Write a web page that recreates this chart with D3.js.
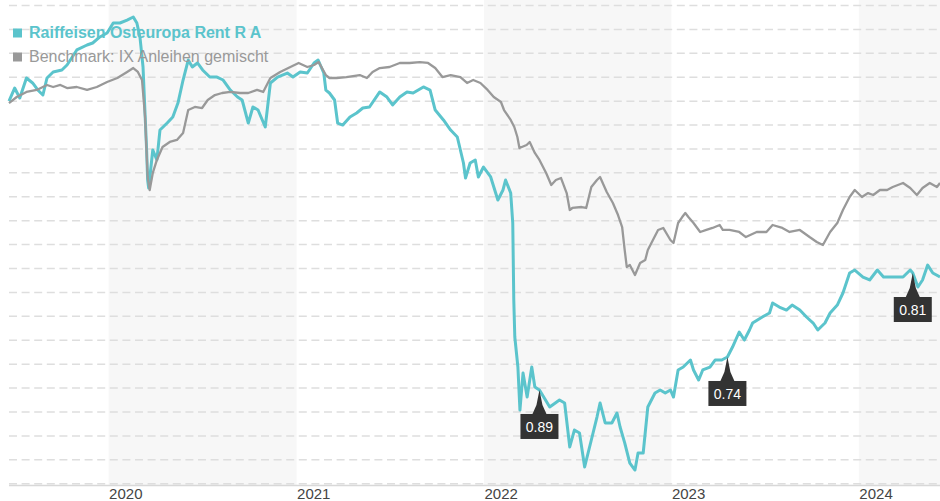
<!DOCTYPE html>
<html>
<head>
<meta charset="utf-8">
<script src="https://cdn.jsdelivr.net/npm/d3@7"></script>
<style>
  html, body { margin: 0; padding: 0; background: #fff; }
  svg { display: block; }
</style>
</head>
<body>
<svg id="chart" width="940" height="501"></svg>
<script>
// ---- Data ----
const fundName = "Raiffeisen Osteuropa Rent R A";
const benchName = "Benchmark: IX Anleihen gemischt";

const fund = [
  ["2019-06-21",100.01],["2019-07-02",101.37],["2019-07-12",100.33],["2019-07-25",102.42],["2019-08-06",101.90],
  ["2019-08-16",101.17],["2019-08-26",100.64],["2019-09-03",102.42],["2019-09-15",103.05],["2019-10-02",103.26],
  ["2019-10-12",103.78],["2019-10-21",104.51],["2019-10-31",105.35],["2019-11-20",105.87],["2019-12-01",106.08],
  ["2019-12-15",106.71],["2019-12-29",107.12],["2020-01-10",108.17],["2020-01-23",108.17],["2020-02-06",108.48],
  ["2020-02-18",108.80],["2020-02-25",108.17],["2020-03-02",106.71],["2020-03-08",103.57],["2020-03-15",94.89],
  ["2020-03-17",91.75],["2020-03-19",90.92],["2020-03-27",94.89],["2020-04-04",93.85],["2020-04-10",96.98],
  ["2020-04-24",97.71],["2020-05-05",98.34],["2020-05-15",99.80],["2020-05-25",102.21],["2020-06-04",104.30],
  ["2020-06-12",103.57],["2020-06-22",103.99],["2020-07-02",103.26],["2020-07-16",102.52],["2020-07-30",102.52],
  ["2020-08-11",102.21],["2020-08-25",101.16],["2020-09-08",100.43],["2020-09-17",100.12],["2020-09-29",97.71],
  ["2020-10-08",99.39],["2020-10-18",99.07],["2020-11-01",97.30],["2020-11-11",101.90],["2020-11-25",102.52],
  ["2020-12-14",102.94],["2020-12-25",102.52],["2021-01-08",103.05],["2021-01-22",102.94],["2021-02-04",103.99],
  ["2021-02-12",104.30],["2021-02-23",102.94],["2021-02-27",101.16],["2021-03-06",100.85],["2021-03-16",100.12],
  ["2021-03-22",97.71],["2021-04-01",97.50],["2021-04-15",98.34],["2021-04-28",98.76],["2021-05-10",99.28],
  ["2021-05-23",99.39],["2021-06-12",100.96],["2021-06-26",100.43],["2021-07-07",99.60],["2021-07-21",100.43],
  ["2021-08-04",100.96],["2021-08-16",100.85],["2021-09-05",101.48],["2021-09-18",101.16],["2021-09-28",99.07],
  ["2021-10-14",98.03],["2021-10-28",96.98],["2021-11-10",96.25],["2021-11-22",93.53],["2021-11-26",91.96],
  ["2021-12-05",93.53],["2021-12-15",93.85],["2021-12-21",92.07],["2021-12-31",93.11],["2022-01-14",92.07],
  ["2022-01-28",89.66],["2022-02-07",90.71],["2022-02-12",91.75],["2022-02-22",90.39],["2022-02-26",87.26],
  ["2022-02-28",79.21],["2022-03-02",75.34],["2022-03-08",72.20],["2022-03-12",67.70],["2022-03-18",71.57],
  ["2022-03-26",69.06],["2022-04-04",72.20],["2022-04-10",70.11],["2022-04-19",69.80],["2022-05-09",68.02],
  ["2022-05-28",68.75],["2022-06-07",68.44],["2022-06-17",63.84],["2022-06-26",65.61],["2022-07-06",65.30],
  ["2022-07-16",61.75],["2022-07-29",64.57],["2022-08-09",66.97],["2022-08-15",68.44],["2022-08-25",66.35],
  ["2022-09-07",66.35],["2022-09-17",67.39],["2022-09-23",65.93],["2022-10-02",64.26],["2022-10-12",62.16],
  ["2022-10-22",61.43],["2022-10-28",63.21],["2022-11-07",63.21],["2022-11-16",68.02],["2022-11-30",69.48],
  ["2022-12-10",69.80],["2022-12-20",69.48],["2022-12-30",69.80],["2023-01-05",69.06],["2023-01-14",71.89],
  ["2023-01-24",72.20],["2023-02-07",72.93],["2023-02-13",71.89],["2023-02-23",70.84],["2023-03-03",71.89],
  ["2023-03-17",72.20],["2023-03-27",72.93],["2023-04-09",72.93],["2023-04-20",73.25],["2023-04-30",74.29],
  ["2023-05-13",75.86],["2023-05-23",75.02],["2023-06-02",76.07],["2023-06-08",76.80],["2023-06-27",77.43],
  ["2023-07-11",77.85],["2023-07-17",78.89],["2023-07-30",78.47],["2023-08-13",78.16],["2023-08-24",78.68],
  ["2023-09-08",78.16],["2023-09-21",77.43],["2023-10-04",76.80],["2023-10-13",76.07],["2023-10-27",76.80],
  ["2023-11-06",77.85],["2023-11-20",78.68],["2023-12-01",79.94],["2023-12-14",82.03],["2023-12-24",82.34],
  ["2024-01-09",81.61],["2024-01-22",81.30],["2024-02-06",82.34],["2024-02-18",81.61],["2024-03-02",81.61],
  ["2024-03-15",81.61],["2024-03-27",81.61],["2024-04-10",82.34],["2024-04-15",82.03],["2024-04-25",80.57],
  ["2024-05-04",81.30],["2024-05-14",82.86],["2024-05-24",82.03],["2024-06-07",81.61]
];

const bench = [
  ["2019-06-21",99.80],["2019-07-06",100.43],["2019-07-25",100.96],["2019-08-14",101.17],["2019-09-03",101.69],
  ["2019-09-15",101.48],["2019-09-29",101.69],["2019-10-12",101.37],["2019-10-31",101.48],["2019-11-20",101.17],
  ["2019-12-09",101.48],["2019-12-29",102.00],["2020-01-18",102.42],["2020-02-06",103.05],["2020-02-18",103.46],
  ["2020-02-27",103.05],["2020-03-06",102.21],["2020-03-12",98.34],["2020-03-17",92.07],["2020-03-21",90.71],
  ["2020-03-27",92.49],["2020-04-04",93.85],["2020-04-15",95.20],["2020-04-29",95.73],["2020-05-13",95.94],
  ["2020-05-25",96.67],["2020-06-04",99.07],["2020-06-17",99.39],["2020-07-01",99.28],["2020-07-12",100.12],
  ["2020-07-26",100.64],["2020-08-09",100.85],["2020-08-25",100.96],["2020-09-13",100.85],["2020-09-29",100.85],
  ["2020-10-16",101.17],["2020-10-28",100.96],["2020-11-11",102.42],["2020-11-30",103.05],["2020-12-20",103.57],
  ["2021-01-05",103.99],["2021-01-22",103.57],["2021-02-04",103.78],["2021-02-13",104.09],["2021-02-27",102.73],
  ["2021-03-06",102.42],["2021-03-20",102.42],["2021-04-08",102.52],["2021-05-04",102.73],["2021-05-18",102.42],
  ["2021-05-29",103.05],["2021-06-12",103.46],["2021-07-01",103.57],["2021-07-21",103.99],["2021-08-09",103.99],
  ["2021-08-29",104.09],["2021-09-14",103.99],["2021-09-28",103.46],["2021-10-12",102.52],["2021-10-28",102.73],
  ["2021-11-16",102.52],["2021-11-29",101.90],["2021-12-11",102.21],["2021-12-25",101.90],["2022-01-08",101.17],
  ["2022-01-20",100.43],["2022-02-03",99.91],["2022-02-09",99.07],["2022-02-22",98.03],["2022-03-01",97.30],
  ["2022-03-07",96.25],["2022-03-11",95.10],["2022-03-25",95.41],["2022-03-31",95.73],["2022-04-10",94.58],
  ["2022-04-19",93.85],["2022-05-02",92.49],["2022-05-12",91.23],["2022-05-21",91.75],["2022-05-31",91.96],
  ["2022-06-11",90.39],["2022-06-17",88.62],["2022-06-22",88.83],["2022-07-10",88.93],["2022-07-19",88.83],
  ["2022-07-29",91.02],["2022-08-09",91.75],["2022-08-15",92.07],["2022-08-28",90.50],["2022-09-09",89.35],
  ["2022-09-19",88.09],["2022-09-27",86.84],["2022-10-02",84.43],["2022-10-06",82.66],["2022-10-12",82.87],
  ["2022-10-22",81.82],["2022-11-01",83.08],["2022-11-11",83.39],["2022-11-16",84.43],["2022-11-26",85.48],
  ["2022-12-06",86.53],["2022-12-16",86.74],["2022-12-30",85.48],["2023-01-05",85.17],["2023-01-14",87.26],
  ["2023-01-22",87.88],["2023-01-28",88.30],["2023-02-03",87.88],["2023-02-13",87.26],["2023-02-26",86.32],
  ["2023-03-10",86.53],["2023-03-22",86.74],["2023-04-05",87.05],["2023-04-11",86.53],["2023-04-24",86.53],
  ["2023-05-13",86.32],["2023-05-26",85.79],["2023-06-16",86.32],["2023-07-05",86.32],["2023-07-17",87.05],
  ["2023-08-05",86.74],["2023-08-19",86.32],["2023-09-08",86.53],["2023-09-27",85.79],["2023-10-11",85.27],
  ["2023-10-23",84.96],["2023-11-06",86.32],["2023-11-20",87.26],["2023-12-01",88.62],["2023-12-14",89.98],
  ["2023-12-24",90.71],["2024-01-07",89.98],["2024-01-19",90.39],["2024-01-29",90.19],["2024-02-11",90.71],
  ["2024-02-25",90.71],["2024-03-07",91.02],["2024-03-27",91.44],["2024-04-10",90.92],["2024-04-23",90.19],
  ["2024-05-04",90.92],["2024-05-18",91.44],["2024-06-01",91.02],["2024-06-07",91.44]
];

const dividendDates = ["2022-04-19", "2023-04-20", "2024-04-15"];
const dividendLabels = ["0.89", "0.74", "0.81"];

const yearTicks = ["2020", "2021", "2022", "2023", "2024"];
const shadedYears = ["2020", "2022", "2024"];
const gridValues = d3.range(60, 110.01, 2.5);

// ---- Setup ----
const plotLeft = 9, plotRight = 940, plotTop = 5.5, plotBottom = 483.7;
const parse = d3.timeParse("%Y-%m-%d");
const fundData = fund.map(d => ({ date: parse(d[0]), value: d[1] }));
const benchData = bench.map(d => ({ date: parse(d[0]), value: d[1] }));

const colFund = "#5bc4cc";
const colBench = "#999999";

const x = d3.scaleTime()
  .domain([parse("2019-06-21"), parse("2024-06-07")])
  .range([plotLeft, plotRight]);
const y = d3.scaleLinear().domain([60, 110]).range([plotBottom, plotTop]);

const svg = d3.select("#chart");

// shaded alternating year bands
svg.append("g").selectAll("rect")
  .data(shadedYears)
  .join("rect")
  .attr("x", d => x(new Date(+d, 0, 1)))
  .attr("y", 0)
  .attr("width", d => Math.min(plotRight, x(new Date(+d + 1, 0, 1))) - x(new Date(+d, 0, 1)))
  .attr("height", 485)
  .attr("fill", "#f7f7f7");

// gridlines
svg.append("g").selectAll("line")
  .data(gridValues)
  .join("line")
  .attr("x1", plotLeft).attr("x2", plotRight)
  .attr("y1", d => y(d)).attr("y2", d => y(d))
  .attr("stroke", "#dedede")
  .attr("stroke-width", 1.5)
  .attr("stroke-dasharray", "8,4.6");

// x axis
const xAxis = d3.axisBottom(x)
  .tickValues(yearTicks.map(t => new Date(+t, 0, 1)))
  .tickFormat(d3.timeFormat("%Y"))
  .tickSize(0);
const gx = svg.append("g").attr("transform", "translate(0,485.5)").call(xAxis);
gx.select(".domain").attr("stroke", "#d8d8d8").attr("stroke-width", 1.5)
  .attr("d", `M${plotLeft},0H${plotRight}`);
gx.selectAll("text")
  .attr("text-anchor", "start")
  .attr("dy", 0)
  .attr("y", 13)
  .attr("font-family", "'Liberation Sans', Arial, sans-serif")
  .attr("font-size", 15)
  .attr("fill", "#444");

// lines
const line = d3.line().x(d => x(d.date)).y(d => y(d.value)).curve(d3.curveLinear);
svg.append("path").datum(fundData)
  .attr("d", line).attr("fill", "none")
  .attr("stroke", colFund).attr("stroke-width", 3).attr("stroke-linejoin", "round");
svg.append("path").datum(benchData)
  .attr("d", line).attr("fill", "none")
  .attr("stroke", colBench).attr("stroke-width", 2.3).attr("stroke-linejoin", "round");

// dividend markers
const bis = d3.bisector(d => d.date).left;
function valueAt(date) {
  const i = bis(fundData, date);
  if (i <= 0) return fundData[0].value;
  if (i >= fundData.length) return fundData[fundData.length - 1].value;
  const a = fundData[i - 1], b = fundData[i];
  const t = (date - a.date) / (b.date - a.date);
  return a.value + t * (b.value - a.value);
}
const mk = svg.append("g").selectAll("g")
  .data(dividendDates.map((d, i) => ({ date: parse(d), label: dividendLabels[i] })))
  .join("g")
  .attr("transform", d => `translate(${x(d.date)},${y(valueAt(d.date))})`);
mk.append("path")
  .attr("d", "M0,0 L3,15 L7,24 L-7,24 L-3,15 Z")
  .attr("fill", "#333");
mk.append("rect")
  .attr("x", -19).attr("y", 24).attr("width", 38).attr("height", 25)
  .attr("fill", "#333");
mk.append("text")
  .attr("x", 0).attr("y", 42)
  .attr("text-anchor", "middle")
  .attr("font-family", "'Liberation Sans', Arial, sans-serif")
  .attr("font-size", 14)
  .attr("fill", "#fff")
  .text(d => d.label);

// legend
const legend = svg.append("g");
const legendItems = [
  { name: fundName, color: colFund, weight: "bold", y: 37.5 },
  { name: benchName, color: colBench, weight: "normal", y: 61.5 }
];
legendItems.forEach(it => {
  legend.append("rect")
    .attr("x", 13).attr("y", it.y - 9).attr("width", 9).attr("height", 9)
    .attr("fill", it.color);
  legend.append("text")
    .attr("x", 29).attr("y", it.y)
    .attr("font-family", "'Liberation Sans', Arial, sans-serif")
    .attr("font-size", 16)
    .attr("font-weight", it.weight)
    .attr("fill", it.color)
    .text(it.name);
});
</script>
</body>
</html>
